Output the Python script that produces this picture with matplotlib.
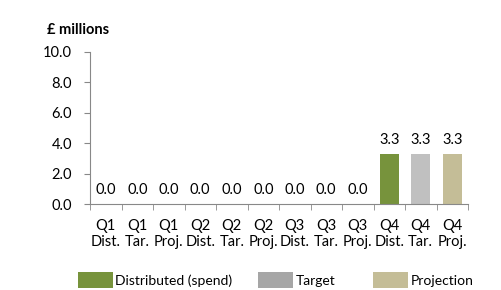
import matplotlib
matplotlib.use("Agg")
import matplotlib.pyplot as plt
from matplotlib.patches import Patch
import numpy as np

plt.rcParams['font.family'] = ['Lato', 'DejaVu Sans']

quarters = ["Q1", "Q1", "Q1", "Q2", "Q2", "Q2", "Q3", "Q3", "Q3", "Q4", "Q4", "Q4"]
kinds = ["Dist.", "Tar.", "Proj.", "Dist.", "Tar.", "Proj.", "Dist.", "Tar.", "Proj.", "Dist.", "Tar.", "Proj."]
values = [0.0, 0.0, 0.0, 0.0, 0.0, 0.0, 0.0, 0.0, 0.0, 3.3, 3.3, 3.3]
series_names = ["Distributed (spend)", "Target", "Projection"]
bar_colors = {"Dist.": "#77933C", "Tar.": "#C0C0C0", "Proj.": "#C4BD97"}
legend_colors = ["#77933C", "#A6A6A6", "#C4BD97"]
yticks = [0.0, 2.0, 4.0, 6.0, 8.0, 10.0]

fig = plt.figure(figsize=(5.02, 2.9), dpi=100)
ax = fig.add_axes([90/502, 86/290, 378/502, 152/290])

x = np.arange(len(values))
colors = [bar_colors[k] for k in kinds]
ax.bar(x, values, width=0.6, color=colors)
for xi, v in zip(x, values):
    ax.text(xi, v + 0.45, f"{v:.1f}", ha="center", va="bottom", fontsize=10.5, color="#000000")

ax.set_xlim(-0.5, len(values) - 0.5)
ax.set_ylim(0, 10)
ax.set_yticks(yticks)
ax.set_yticklabels([f"{t:.1f}" for t in yticks], fontsize=10.5)
ax.set_xticks(x)
ax.set_xticklabels([f"{q}\n{k}" for q, k in zip(quarters, kinds)], fontsize=10.5, linespacing=1.15)
ax.tick_params(axis="x", which="major", length=0, pad=11)
ax.set_xticks(np.arange(-0.5, len(values), 1.0), minor=True)
ax.tick_params(axis="x", which="minor", length=4, color="#888888", direction="out")
ax.tick_params(axis="y", length=4, color="#888888", direction="out", pad=9)

for s in ["top", "right"]:
    ax.spines[s].set_visible(False)
for s in ["left", "bottom"]:
    ax.spines[s].set_color("#888888")
    ax.spines[s].set_linewidth(0.8)

fig.text(47/502, 1 - 30/290, "£ millions", fontsize=10.5, fontweight="bold", va="center", ha="left")

leg_x = [78/502, 258/502, 373/502]
for name, c, lx in zip(series_names, legend_colors, leg_x):
    fig.legend(handles=[Patch(facecolor=c, edgecolor="none")], labels=[name],
               loc="center left", bbox_to_anchor=(lx, 1 - 280/290), frameon=False,
               fontsize=10, handlelength=2.5, handleheight=1.3, handletextpad=0.2,
               borderaxespad=0, borderpad=0)

fig.savefig("out.png", dpi=100)
